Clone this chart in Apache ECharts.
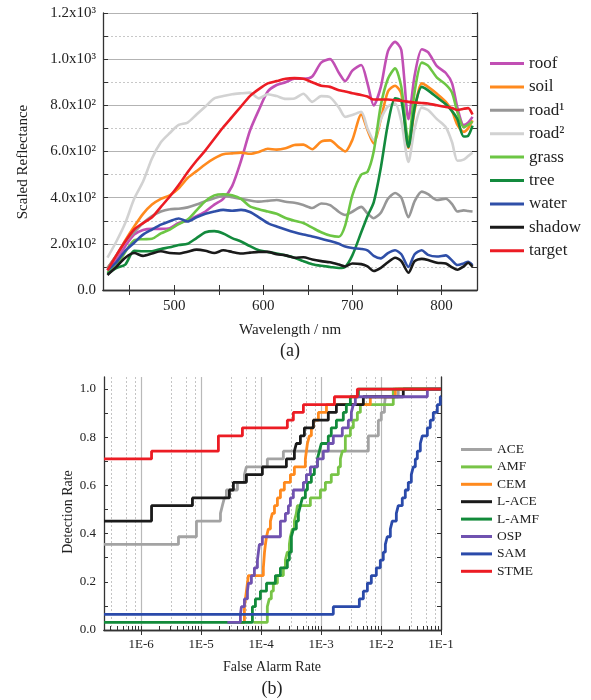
<!DOCTYPE html>
<html>
<head>
<meta charset="utf-8">
<script src="https://cdn.jsdelivr.net/npm/echarts@6/dist/echarts.min.js"></script>
<style>
html,body{margin:0;padding:0;background:#fff;}
#chart{width:591px;height:700px;}
</style>
</head>
<body>
<div id="chart"></div>
<script>
// ---------- (a) spectra ----------
const wavelengths = [425,435,445,455,465,475,485,495,505,515,525,535,545,555,565,575,585,595,605,615,625,635,645,655,665,675,685,692,700,710,717,724,732,740,748,755,763,770,778,785,795,805,812,818,825,830,835];
const roof   = [90,130,190,240,260,265,265,268,290,300,320,340,370,395,450,560,690,780,860,888,900,915,915,925,985,1000,940,905,950,975,895,800,880,1035,1075,1040,740,930,1043,1030,970,940,895,790,715,725,750];
const soil   = [95,150,215,275,330,370,395,410,440,485,515,545,570,588,592,595,590,598,612,608,614,628,630,610,643,648,618,600,650,760,693,635,740,860,885,850,615,780,895,880,850,815,775,715,685,700,735];
const road1  = [95,150,210,250,290,320,340,350,352,358,370,385,398,407,402,395,388,383,386,390,382,378,368,355,375,368,338,325,339,360,332,311,335,395,420,400,315,385,426,415,390,395,372,340,345,342,340];
const road2  = [140,210,290,395,470,570,640,680,715,725,760,795,830,840,848,852,855,830,848,840,828,830,850,815,840,835,790,750,758,772,700,650,740,795,808,730,555,700,790,780,740,705,640,560,565,580,595];
const grass  = [75,105,165,215,220,222,245,262,285,305,345,385,410,415,410,395,362,350,340,330,312,300,290,270,250,236,231,280,410,500,512,600,800,915,960,880,640,860,985,972,920,890,855,770,705,715,730];
const tree   = [70,95,110,170,168,168,178,185,195,200,225,250,255,245,225,210,190,172,165,158,150,140,125,112,105,100,95,100,150,250,320,380,530,720,830,820,620,790,880,865,835,805,775,740,665,668,712];
const water  = [85,120,170,205,240,262,283,298,310,297,315,330,340,347,343,347,338,315,290,275,262,250,240,232,222,212,200,188,182,178,172,148,137,160,172,155,100,155,172,152,145,150,128,108,115,122,108];
const shadow = [65,100,140,160,148,158,168,160,158,166,175,170,160,172,165,158,162,165,165,155,150,140,142,132,125,120,110,102,115,112,102,82,96,120,140,125,75,125,135,130,118,115,98,88,102,118,100];
const target = [85,150,210,262,290,315,360,405,455,510,560,605,655,705,750,795,840,870,895,905,915,918,915,900,885,880,865,860,852,845,838,825,825,825,822,820,815,812,810,808,800,793,788,780,785,788,760];
const spectraNames = ['roof','soil','road¹','road²','grass','tree','water','shadow','target'];
const spectraValues = [roof,soil,road1,road2,grass,tree,water,shadow,target];
const spectraColors = ['#c14fb4','#ff8a1e','#979797','#d2d2d2','#6cc644','#138a3d','#2f4fa8','#1a1a1a','#ec1c24'];
const wlLabels = [500,600,700,800];
const reflLabels = ['0.0','2.0x10²','4.0x10²','6.0x10²','8.0x10²','1.0x10³','1.2x10³'];

// ---------- (b) ROC curves: [false alarm rate, detection rate] ----------
const ace  = [[2.4e-7,.355],[4.19e-6,.387],[8.35e-6,.452],[2.10e-5,.484],[2.26e-5,.516],[2.44e-5,.548],[2.64e-5,.581],[4.03e-5,.613],[5.27e-5,.645],[5.69e-5,.677],[1.27e-4,.710],[2.35e-4,.742],[6.14e-3,.806],[9.02e-3,.871],[1.01e-2,.903],[1.14e-2,.935],[1.18e-2,.968],[1.94e-2,1.0],[0.1,1.0]];
const amf  = [[7.44e-5,.032],[1.27e-4,.097],[1.37e-4,.129],[1.48e-4,.161],[1.60e-4,.194],[1.87e-4,.226],[2.35e-4,.258],[2.54e-4,.290],[2.74e-4,.323],[2.96e-4,.355],[3.08e-4,.387],[3.32e-4,.419],[3.59e-4,.452],[3.87e-4,.484],[4.03e-4,.516],[6.63e-4,.548],[9.73e-4,.581],[1.18e-3,.613],[1.48e-3,.645],[1.94e-3,.677],[2.10e-3,.710],[2.26e-3,.742],[2.54e-3,.806],[3.08e-3,.839],[3.45e-3,.871],[4.03e-3,.903],[4.52e-3,.935],[1.60e-2,1.0],[0.1,1.0]];
const cem  = [[4.52e-5,.032],[5.27e-5,.097],[5.69e-5,.161],[5.92e-5,.194],[6.14e-5,.226],[1.09e-4,.258],[1.14e-4,.323],[1.18e-4,.355],[1.23e-4,.387],[1.32e-4,.419],[1.43e-4,.452],[1.54e-4,.484],[1.67e-4,.516],[1.87e-4,.548],[2.10e-4,.581],[2.44e-4,.613],[3.08e-4,.645],[3.59e-4,.677],[5.47e-4,.710],[5.69e-4,.742],[5.92e-4,.774],[6.38e-4,.806],[6.89e-4,.839],[7.44e-4,.871],[9.02e-4,.903],[1.23e-3,.935],[6.63e-3,.968],[1.73e-2,1.0],[0.1,1.0]];
const lace = [[2.4e-7,.452],[1.49e-6,.516],[7.16e-6,.548],[2.96e-5,.581],[3.45e-5,.613],[5.69e-5,.645],[1.05e-4,.677],[2.64e-4,.710],[3.59e-4,.742],[3.87e-4,.774],[4.52e-4,.806],[5.27e-4,.839],[7.44e-4,.871],[1.32e-3,.903],[1.80e-3,.935],[5.07e-3,.968],[2.35e-2,1.0],[0.1,1.0]];
const lamf = [[2.4e-7,.032],[7.16e-5,.097],[8.04e-5,.129],[9.73e-5,.161],[1.23e-4,.194],[1.73e-4,.226],[2.10e-4,.258],[2.74e-4,.290],[2.96e-4,.323],[3.20e-4,.387],[3.45e-4,.419],[3.87e-4,.452],[4.19e-4,.484],[4.52e-4,.516],[4.88e-4,.548],[5.47e-4,.581],[5.92e-4,.613],[6.89e-4,.645],[7.73e-4,.677],[8.68e-4,.710],[9.37e-4,.742],[1.01e-3,.774],[1.32e-3,.806],[1.48e-3,.839],[1.80e-3,.871],[2.35e-3,.903],[2.64e-3,.935],[3.08e-3,.968],[4.19e-3,1.0],[0.1,1.0]];
const osp  = [[2.74e-5,.032],[4.52e-5,.065],[4.70e-5,.097],[5.27e-5,.129],[5.92e-5,.161],[6.14e-5,.194],[6.89e-5,.226],[7.73e-5,.258],[8.68e-5,.290],[9.02e-5,.323],[9.37e-5,.355],[1.05e-4,.387],[2.10e-4,.452],[2.54e-4,.484],[2.85e-4,.516],[3.08e-4,.548],[3.45e-4,.581],[5.07e-4,.613],[5.69e-4,.645],[6.63e-4,.677],[8.68e-4,.710],[1.09e-3,.742],[1.32e-3,.774],[1.60e-3,.806],[2.26e-3,.839],[2.85e-3,.871],[3.20e-3,.903],[3.45e-3,.935],[3.73e-3,.968],[5.92e-2,1.0],[0.1,1.0]];
const sam  = [[2.4e-7,.065],[1.60e-3,.097],[4.35e-3,.129],[5.07e-3,.161],[5.92e-3,.194],[6.89e-3,.226],[8.35e-3,.258],[9.73e-3,.290],[1.09e-2,.323],[1.18e-2,.355],[1.27e-2,.387],[1.43e-2,.419],[1.54e-2,.452],[1.80e-2,.484],[1.94e-2,.516],[2.26e-2,.548],[2.54e-2,.581],[2.85e-2,.613],[3.20e-2,.645],[3.45e-2,.677],[3.73e-2,.710],[4.03e-2,.742],[4.52e-2,.774],[4.88e-2,.806],[5.92e-2,.839],[6.63e-2,.871],[7.44e-2,.903],[8.68e-2,.935],[9.73e-2,.968],[0.1,.968]];
const stme = [[2.4e-7,.710],[1.49e-6,.742],[1.94e-5,.806],[4.88e-5,.839],[2.74e-4,.871],[3.45e-4,.903],[5.07e-4,.935],[1.67e-3,.968],[4.03e-3,1.0],[0.1,1.0]];
const rocNames = ['ACE','AMF','CEM','L-ACE','L-AMF','OSP','SAM','STME'];
const rocValues = [ace,amf,cem,lace,lamf,osp,sam,stme];
const rocColors = ['#a3a3a3','#78c447','#ff8a1e','#1a1a1a','#128a3a','#7052b0','#2a4aaa','#ec1c24'];
const farLabels = [1e-6,1e-5,1e-4,1e-3,1e-2,1e-1];
const drLabels = [0,0.2,0.4,0.6,0.8,1.0];

// ---------- axis helpers (positions only) ----------
const FONT = 'Liberation Serif';
const wlTicks = []; for (let w = 450; w <= 800; w += 50) wlTicks.push(w);
const farMinor = []; const farDotted = [];
for (let e = -7; e <= -1; e++) {
  for (let m = 1; m <= 9; m++) farMinor.push(m * Math.pow(10, e));
  if (e <= -2) [3.2, 5.6, 7.9].forEach(m => farDotted.push(m * Math.pow(10, e)));
}
const drTicks = []; for (let i = 0; i <= 10; i++) drTicks.push(i / 10);
const axLine = {lineStyle: {color: '#333', width: 1.3}};

const chart = echarts.init(document.getElementById('chart'), null, {renderer: 'canvas'});
const option = {
  animation: false,
  backgroundColor: '#fff',
  textStyle: {fontFamily: FONT},
  grid: [
    {left: 103, top: 13, width: 374, height: 277},
    {left: 104, top: 377, width: 337, height: 253}
  ],
  xAxis: [
    {gridIndex: 0, type: 'value', min: 420, max: 840, position: 'bottom', axisLine: axLine,
     axisTick: {inside: true, length: 5, customValues: wlTicks, lineStyle: {color: '#333'}},
     axisLabel: {customValues: wlLabels, fontSize: 15, color: '#222', margin: 9, fontFamily: FONT},
     splitLine: {show: false}},
    {gridIndex: 0, type: 'value', min: 420, max: 840, position: 'top', axisLine: axLine,
     axisTick: {inside: true, length: 5, customValues: wlTicks, lineStyle: {color: '#333'}},
     axisLabel: {show: false}, splitLine: {show: false}},
    {gridIndex: 1, type: 'log', logBase: 10, min: 2.4e-7, max: 0.1, position: 'bottom', axisLine: axLine,
     axisTick: {inside: true, length: 4, customValues: farMinor, lineStyle: {color: '#333'}},
     axisLabel: {customValues: farLabels, fontSize: 13, color: '#222', margin: 8, fontFamily: FONT,
       formatter: v => '1E' + Math.round(Math.log10(v))},
     splitLine: {show: false}},
    {gridIndex: 1, type: 'log', logBase: 10, min: 2.4e-7, max: 0.1, position: 'top', axisLine: axLine,
     axisTick: {inside: true, length: 5, customValues: farLabels, lineStyle: {color: '#333'}},
     axisLabel: {show: false},
     splitLine: {show: true, lineStyle: {color: '#b9b9b9', width: 1.2}}},
    {gridIndex: 1, type: 'log', logBase: 10, min: 2.4e-7, max: 0.1, position: 'bottom',
     axisLine: {show: false}, axisTick: {show: false, customValues: farDotted}, axisLabel: {show: false},
     splitLine: {show: true, lineStyle: {color: '#c4c4c4', width: 1, type: [2, 2]}}}
  ],
  yAxis: [
    {gridIndex: 0, type: 'value', min: 0, max: 1200, interval: 200, position: 'left', axisLine: axLine,
     axisTick: {inside: true, length: 5, lineStyle: {color: '#333'}},
     minorTick: {show: true, splitNumber: 2, length: 5, lineStyle: {color: '#333'}},
     axisLabel: {fontSize: 15, color: '#222', margin: 7, fontFamily: FONT,
       formatter: (v) => reflLabels[Math.round(v / 200)]},
     splitLine: {show: true, lineStyle: {color: '#b3b3b3', width: 1.2}},
     minorSplitLine: {show: true, lineStyle: {color: '#c8c8c8', width: 1, type: [2, 2]}}},
    {gridIndex: 0, type: 'value', min: 0, max: 1200, interval: 200, position: 'right', axisLine: axLine,
     axisTick: {inside: true, length: 5, lineStyle: {color: '#333'}},
     minorTick: {show: true, splitNumber: 2, length: 5, lineStyle: {color: '#333'}},
     axisLabel: {show: false}, splitLine: {show: false}},
    {gridIndex: 1, type: 'value', min: 0, max: 1.05, position: 'left', axisLine: axLine,
     axisTick: {inside: true, length: 4, customValues: drTicks, lineStyle: {color: '#333'}},
     axisLabel: {customValues: drLabels, fontSize: 13, color: '#222', margin: 8, fontFamily: FONT,
       formatter: v => v.toFixed(1)},
     splitLine: {show: false}},
    {gridIndex: 1, type: 'value', min: 0, max: 1.05, position: 'right', axisLine: axLine,
     axisTick: {inside: true, length: 4, customValues: drTicks, lineStyle: {color: '#333'}},
     axisLabel: {show: false}, splitLine: {show: false}}
  ],
  legend: [
    {data: spectraNames, orient: 'vertical', left: 490, top: 55, padding: 0, icon: 'rect', itemWidth: 34, itemHeight: 3,
     itemGap: 6.4, textStyle: {fontSize: 17, lineHeight: 17, color: '#222', fontFamily: FONT}},
    {data: rocNames, orient: 'vertical', left: 461, top: 442.5, padding: 0, icon: 'rect', itemWidth: 31, itemHeight: 3,
     itemGap: 3.4, textStyle: {fontSize: 13.5, lineHeight: 14, color: '#222', fontFamily: FONT}}
  ],
  graphic: [
    {type: 'text', x: 23, y: 162, rotation: Math.PI / 2,
     style: {text: 'Scaled Reflectance', font: '15px "Liberation Serif"', fill: '#222', align: 'center', verticalAlign: 'middle', textAlign: 'center', textVerticalAlign: 'middle'}},
    {type: 'text', x: 290, y: 330,
     style: {text: 'Wavelength / nm', font: '15px "Liberation Serif"', fill: '#222', align: 'center', verticalAlign: 'middle', textAlign: 'center', textVerticalAlign: 'middle'}},
    {type: 'text', x: 290, y: 351,
     style: {text: '(a)', font: '18px "Liberation Serif"', fill: '#222', align: 'center', verticalAlign: 'middle', textAlign: 'center', textVerticalAlign: 'middle'}},
    {type: 'text', x: 68, y: 512, rotation: Math.PI / 2,
     style: {text: 'Detection Rate', font: '14px "Liberation Serif"', fill: '#222', align: 'center', verticalAlign: 'middle', textAlign: 'center', textVerticalAlign: 'middle'}},
    {type: 'text', x: 272, y: 667,
     style: {text: 'False Alarm Rate', font: '14px "Liberation Serif"', fill: '#222', align: 'center', verticalAlign: 'middle', textAlign: 'center', textVerticalAlign: 'middle'}},
    {type: 'text', x: 272, y: 689,
     style: {text: '(b)', font: '18px "Liberation Serif"', fill: '#222', align: 'center', verticalAlign: 'middle', textAlign: 'center', textVerticalAlign: 'middle'}}
  ],
  series: [
    ...spectraNames.map((n, i) => ({
      name: n, type: 'line', xAxisIndex: 0, yAxisIndex: 0, symbol: 'none', smooth: 0.25,
      data: wavelengths.map((w, j) => [w, spectraValues[i][j]]),
      lineStyle: {width: 2.6, color: spectraColors[i]}, itemStyle: {color: spectraColors[i]}
    })),
    ...rocNames.map((n, i) => ({
      name: n, type: 'line', xAxisIndex: 2, yAxisIndex: 2, symbol: 'none', step: 'end',
      data: rocValues[i],
      lineStyle: {width: 2.8, color: rocColors[i]}, itemStyle: {color: rocColors[i]}
    }))
  ]
};
chart.setOption(option);
</script>
</body>
</html>
